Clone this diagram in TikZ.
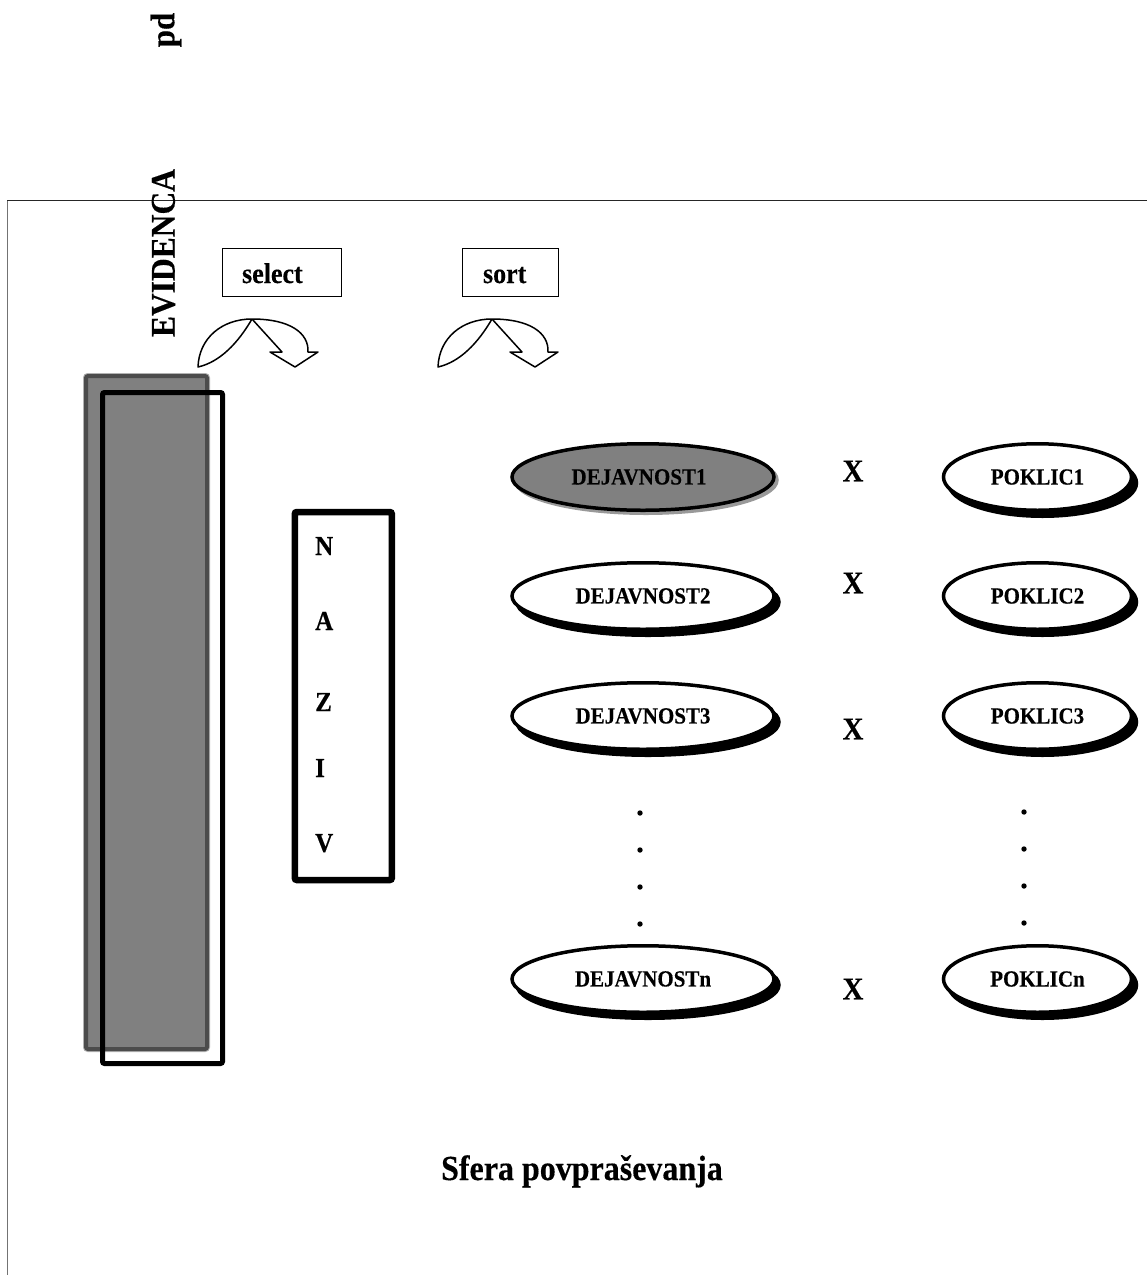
\documentclass[tikz,border=0pt]{standalone}
\usepackage{fontspec}
\setmainfont{Liberation Serif}[BoldFeatures={FakeBold=0.35}]
\usetikzlibrary{shapes.geometric,shadows}
\newcommand{\tall}[1]{\scalebox{1}[1.1]{#1}}
\begin{document}
\begin{tikzpicture}[x=1pt,y=-1pt,
  fs/.style={font={\fontsize{#1}{#1}\selectfont\bfseries}, inner sep=0},
  opbox/.style={draw, line width=1.5, minimum height=48, inner sep=0},
  curvarrow/.style={draw, line width=1.5, line join=round},
  wel/.style={ellipse, draw, line width=3.5, fill=white, inner sep=0,
    minimum height=66.5, font={\fontsize{21}{21}\selectfont\bfseries},
    general shadow={fill=black, draw=black, line width=3.5, shadow xshift=5pt, shadow yshift=-6pt}},
  gel/.style={ellipse, draw, line width=3.5, fill=black!50, inner sep=0,
    minimum height=66.5, font={\fontsize{21}{21}\selectfont\bfseries},
    general shadow={fill=black!40, draw=black!40, line width=3.5, shadow xshift=3pt, shadow yshift=-3pt}},
  dej/.style={wel, minimum width=262},
  pok/.style={wel, minimum width=188},
  dot/.style={circle, fill=black, inner sep=0, minimum size=5.4},
  letter/.style={fs=25, anchor=base west},
  ex/.style={fs=29}]
\useasboundingbox (0,0) rectangle (1147,1275);

% frame of the sphere
\draw[line width=1.2, black!55] (7.5,200) -- (7.5,1275);
\draw[line width=1.5, black!85] (7,200.5) -- (1147,200.5);

% top labels
\node[fs=31, rotate=90] (pd) at (166,30) {\tall{pd}};
\node[fs=31.5, rotate=90] (evid) at (163.5,253) {\tall{EVIDENCA}};

% select / sort boxes
\node[opbox, minimum width=119] (selectbox) at (282,272.5) {};
\node[fs=26, anchor=base] (selecttxt) at (272.4,283) {\tall{select}};
\node[opbox, minimum width=96] (sortbox) at (510.3,272.5) {};
\node[fs=26, anchor=base] (sorttxt) at (504.7,283) {\tall{sort}};

% curved arrows
\foreach \dx in {0,240}{
\begin{scope}[xshift=\dx]
\path[curvarrow] (198,367) .. controls (199,338) and (222,319) .. (252,319)
  .. controls (290,319) and (309,333) .. (308,352)
  -- (318,352) -- (295,367) -- (270,352) -- (282,352) -- (252,319)
  .. controls (238,343) and (220,362) .. (198,367) -- cycle;
\end{scope}}

% EVIDENCA table
\node[draw=black!70, line width=4, fill=black!50, rounded corners=2,
  minimum width=121, minimum height=673, inner sep=0,
  preaction={draw=black!30, line width=6}] (evgray) at (146.5,712.5) {};
\node[draw, line width=5, rounded corners=2, minimum width=120,
  minimum height=671, inner sep=0] (evrect) at (162.5,728) {};

% NAZIV
\node[draw, line width=6.5, rounded corners=2, minimum width=97,
  minimum height=368, inner sep=0] (naziv) at (343.3,696) {};
\node[letter] (ln) at (315,555) {\tall{N}};
\node[letter] (la) at (315,630) {\tall{A}};
\node[letter] (lz) at (315,711) {\tall{Z}};
\node[letter] (li) at (315,777) {\tall{I}};
\node[letter] (lv) at (315,852) {\tall{V}};

% DEJAVNOST column
\node[gel, minimum width=262] (d1) at (643,477) {\hspace*{-8pt}\tall{DEJAVNOST1}};
\node[dej] (d2) at (643,596) {\tall{DEJAVNOST2}};
\node[dej] (d3) at (643,716) {\tall{DEJAVNOST3}};
\node[dej] (dn) at (643,979) {\tall{DEJAVNOSTn}};
\node[dot] (dd1) at (640,813) {};
\node[dot] (dd2) at (640,850) {};
\node[dot] (dd3) at (640,887) {};
\node[dot] (dd4) at (640,924) {};

% X marks
\node[ex] (x1) at (853,471) {\tall{X}};
\node[ex] (x2) at (853,583) {\tall{X}};
\node[ex] (x3) at (853,729) {\tall{X}};
\node[ex] (xn) at (853,989) {\tall{X}};

% POKLIC column
\node[pok] (p1) at (1037.5,477) {\tall{POKLIC1}};
\node[pok] (p2) at (1037.5,596) {\tall{POKLIC2}};
\node[pok] (p3) at (1037.5,716) {\tall{POKLIC3}};
\node[pok] (pn) at (1037.5,979) {\tall{POKLICn}};
\draw[white, line width=2] (1013,942.3) -- (1040,942.3);
\node[dot] (pd1) at (1024,812) {};
\node[dot] (pd2) at (1024,849) {};
\node[dot] (pd3) at (1024,886) {};
\node[dot] (pd4) at (1024,923) {};

% caption
\node[fs=32, anchor=base] (sfera) at (582,1180) {\tall{Sfera povpraševanja}};
\end{tikzpicture}
\end{document}
